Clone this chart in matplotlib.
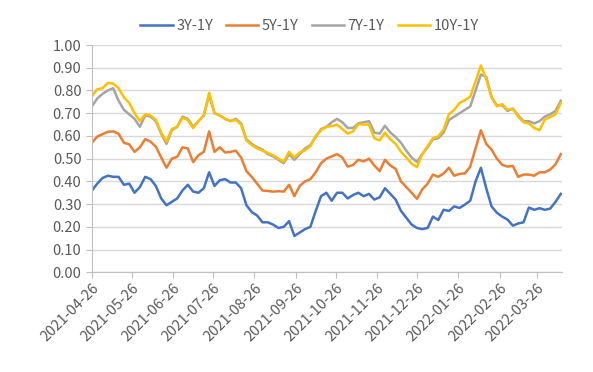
import numpy as np
import pandas as pd
import matplotlib
matplotlib.use('Agg')
import matplotlib.pyplot as plt
import matplotlib.dates as mdates

plt.rcParams['font.family'] = ['Noto Sans CJK SC', 'DejaVu Sans']

# 日期（每4天取一个点）
dates = pd.date_range('2021-04-26', '2022-04-13', freq='4D')

spread_3y = [0.36, 0.39, 0.415, 0.425, 0.42, 0.42, 0.385, 0.39, 0.35, 0.375,
             0.42, 0.41, 0.38, 0.325, 0.295, 0.31, 0.325, 0.36, 0.385, 0.355,
             0.35, 0.37, 0.44, 0.38, 0.405, 0.41, 0.395, 0.395, 0.37, 0.295,
             0.265, 0.25, 0.22, 0.22, 0.21, 0.195, 0.20, 0.225, 0.16, 0.175,
             0.19, 0.20, 0.27, 0.335, 0.35, 0.315, 0.35, 0.35, 0.325, 0.34,
             0.35, 0.335, 0.345, 0.32, 0.33, 0.37, 0.345, 0.32, 0.27, 0.24,
             0.21, 0.195, 0.19, 0.195, 0.245, 0.23, 0.275, 0.27, 0.29, 0.283,
             0.298, 0.315, 0.40, 0.46, 0.37, 0.29, 0.262, 0.245, 0.232, 0.205,
             0.215, 0.22, 0.285, 0.275, 0.282, 0.275, 0.28, 0.31, 0.345]

spread_5y = [0.57, 0.597, 0.608, 0.618, 0.62, 0.61, 0.57, 0.563, 0.53, 0.55,
             0.586, 0.575, 0.553, 0.505, 0.46, 0.50, 0.508, 0.55, 0.545, 0.485,
             0.515, 0.53, 0.62, 0.53, 0.55, 0.527, 0.53, 0.535, 0.505, 0.445,
             0.42, 0.39, 0.36, 0.358, 0.355, 0.357, 0.355, 0.385, 0.335, 0.38,
             0.40, 0.41, 0.44, 0.48, 0.50, 0.51, 0.52, 0.505, 0.465, 0.472,
             0.495, 0.488, 0.50, 0.47, 0.445, 0.495, 0.47, 0.455, 0.40, 0.375,
             0.35, 0.323, 0.365, 0.39, 0.43, 0.42, 0.435, 0.46, 0.425, 0.433,
             0.435, 0.465, 0.545, 0.625, 0.565, 0.54, 0.50, 0.473, 0.465, 0.468,
             0.42, 0.43, 0.43, 0.425, 0.44, 0.44, 0.452, 0.475, 0.52]

spread_7y = [0.73, 0.765, 0.785, 0.80, 0.81, 0.755, 0.715, 0.695, 0.675, 0.64,
             0.69, 0.685, 0.665, 0.61, 0.565, 0.625, 0.64, 0.685, 0.675, 0.64,
             0.665, 0.69, 0.78, 0.70, 0.69, 0.675, 0.665, 0.675, 0.655, 0.585,
             0.565, 0.55, 0.54, 0.52, 0.51, 0.495, 0.48, 0.52, 0.495, 0.52,
             0.545, 0.56, 0.595, 0.63, 0.64, 0.66, 0.675, 0.66, 0.635, 0.635,
             0.655, 0.66, 0.665, 0.615, 0.61, 0.645, 0.615, 0.595, 0.57, 0.535,
             0.505, 0.485, 0.52, 0.55, 0.585, 0.59, 0.615, 0.67, 0.685, 0.70,
             0.715, 0.73, 0.80, 0.87, 0.86, 0.77, 0.735, 0.735, 0.71, 0.72,
             0.69, 0.665, 0.665, 0.655, 0.665, 0.685, 0.695, 0.71, 0.755]

spread_10y = [0.775, 0.805, 0.81, 0.833, 0.83, 0.81, 0.77, 0.745, 0.70, 0.665,
              0.695, 0.69, 0.67, 0.615, 0.575, 0.63, 0.64, 0.68, 0.67, 0.635,
              0.665, 0.69, 0.79, 0.70, 0.69, 0.675, 0.665, 0.67, 0.65, 0.58,
              0.56, 0.545, 0.535, 0.525, 0.515, 0.50, 0.487, 0.53, 0.505, 0.527,
              0.537, 0.555, 0.60, 0.625, 0.64, 0.643, 0.65, 0.63, 0.61, 0.62,
              0.652, 0.65, 0.65, 0.59, 0.58, 0.615, 0.585, 0.565, 0.53, 0.505,
              0.478, 0.463, 0.52, 0.555, 0.59, 0.598, 0.628, 0.695, 0.715, 0.745,
              0.757, 0.773, 0.84, 0.91, 0.85, 0.77, 0.73, 0.74, 0.715, 0.72,
              0.685, 0.66, 0.655, 0.635, 0.625, 0.672, 0.683, 0.695, 0.745]

series_names = ['3Y-1Y', '5Y-1Y', '7Y-1Y', '10Y-1Y']
colors = ['#4472C4', '#ED7D31', '#A5A5A5', '#FFC000']
# 刻度：每月26日
tick_dates = pd.date_range('2021-04-01', '2022-03-01', freq='MS') + pd.Timedelta(days=25)

fig = plt.figure(figsize=(5.93, 3.72), dpi=100)
ax = fig.add_axes([0.155, 0.268, 0.793, 0.611])

for name, vals, c in zip(series_names, [spread_3y, spread_5y, spread_7y, spread_10y], colors):
    ax.plot(dates, vals, color=c, lw=1.8, label=name)

ax.set_ylim(0, 1.0)
ax.set_yticks(np.arange(0, 1.01, 0.1))
ax.yaxis.set_major_formatter(plt.FormatStrFormatter('%.2f'))
ax.set_xlim(dates[0], dates[-1] + pd.Timedelta(days=1))
ax.set_xticks(tick_dates)
ax.xaxis.set_major_formatter(mdates.DateFormatter('%Y-%m-%d'))
plt.setp(ax.get_xticklabels(), rotation=45, ha='right', rotation_mode='anchor')

ax.grid(axis='y', color='#D9D9D9', lw=1)
ax.set_axisbelow(True)
for s in ['top', 'right']:
    ax.spines[s].set_visible(False)
for s in ['left', 'bottom']:
    ax.spines[s].set_color('#BFBFBF')
ax.tick_params(colors='#BFBFBF', labelcolor='#595959', labelsize=10.5, length=4)
ax.tick_params(axis='x', pad=2)

ax.legend(loc='center', bbox_to_anchor=(0.463, 1.085), ncol=4, frameon=False,
          fontsize=10.5, handlelength=2.2, columnspacing=0.9, handletextpad=0.25,
          labelcolor='#595959', borderpad=0)

fig.savefig('out.png', dpi=100)
